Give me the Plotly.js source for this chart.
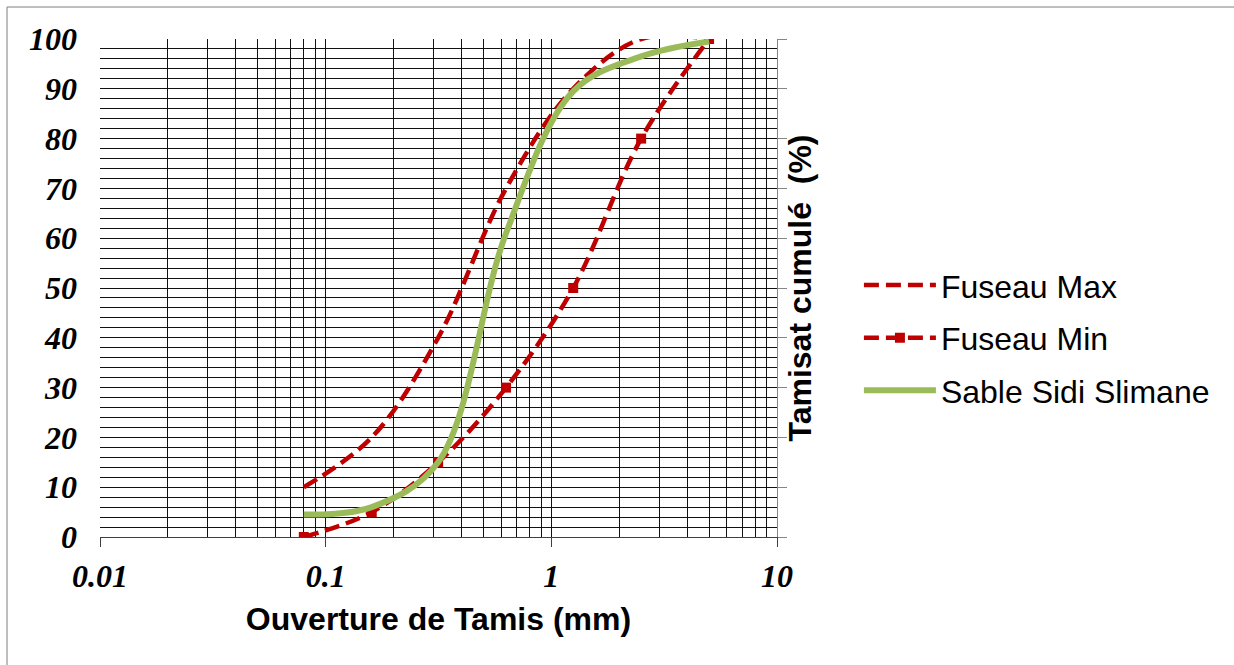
<!DOCTYPE html>
<html>
<head>
<meta charset="utf-8">
<script src="https://cdn.plot.ly/plotly-3.0.1.min.js"></script>
<style>
  html, body { margin: 0; padding: 0; background: #ffffff; }
  #chart { width: 1234px; height: 665px; }
</style>
</head>
<body>
<div id="chart"></div>
<script>
// Sieve openings (mm) and cumulative passing (%)
const sieves = [0.08, 0.16, 0.315, 0.63, 1.25, 2.5, 5];
const fuseauMax = [10, 20, 40, 70, 90, 100, 100];
const fuseauMin = [0, 5, 15, 30, 50, 80, 100];
const sableSidiSlimane = [4.5, 6, 15, 61, 89.5, 96.5, 99.5];

const seriesNames = ['Fuseau Max', 'Fuseau Min', 'Sable Sidi Slimane'];

// Axis ticks
const xTickVals = [0.01, 0.1, 1, 10];
const xTickText = ['0.01', '0.1', '1', '10'];
const yTickVals = [0, 10, 20, 30, 40, 50, 60, 70, 80, 90, 100];

// Log-paper grid: every digit of each decade, and every 2 % vertically
const xGridVals = [];
[0.01, 0.1, 1].forEach(function (dec) {
  for (let k = 2; k <= 10; k++) xGridVals.push(+(k * dec).toPrecision(3));
});
xGridVals.pop(); // 10 is the right-hand axis line
const yGridVals = [];
for (let v = 2; v < 100; v += 2) yGridVals.push(v);

const red = '#C00000';
const green = '#9BBB59';
const gridColor = '#111111';

const tickFont = { family: '"Liberation Serif", "Times New Roman", serif', size: 32, weight: 'bold', style: 'italic', color: '#000' };
const titleFont = { family: '"Liberation Sans", Arial, sans-serif', size: 32, weight: 'bold', color: '#000' };

const traces = [
  {
    x: sieves, y: fuseauMax, name: seriesNames[0], type: 'scatter', mode: 'lines',
    legendgroup: 'a',
    line: { color: red, width: 4.5, dash: '15px,7px', shape: 'spline', smoothing: 1 },
    hoverinfo: 'x+y+name'
  },
  {
    x: sieves, y: fuseauMin, name: seriesNames[1], type: 'scatter', mode: 'lines+markers',
    legendgroup: 'b',
    line: { color: red, width: 4.5, dash: '15px,7px', shape: 'spline', smoothing: 1 },
    marker: { symbol: 'square', size: 10, color: red },
    hoverinfo: 'x+y+name'
  },
  {
    x: sieves, y: sableSidiSlimane, name: seriesNames[2], type: 'scatter', mode: 'lines',
    legendgroup: 'c',
    line: { color: green, width: 6, shape: 'spline', smoothing: 1 },
    hoverinfo: 'x+y+name'
  },
  // carriers for the overlay axes (grid and right-hand scale)
  { x: [1], y: [0], xaxis: 'x2', yaxis: 'y3', mode: 'lines', showlegend: false, hoverinfo: 'skip' },
  { x: [1], y: [0], xaxis: 'x', yaxis: 'y2', mode: 'lines', showlegend: false, hoverinfo: 'skip' }
];

const layout = {
  width: 1234,
  height: 665,
  margin: { l: 100, r: 457, t: 39, b: 128, autoexpand: false },
  paper_bgcolor: '#ffffff',
  plot_bgcolor: '#ffffff',
  showlegend: true,
  legend: {
    x: 1.121, xanchor: 'left',
    y: 0.4, yanchor: 'middle',
    font: { family: '"Liberation Sans", Arial, sans-serif', size: 32, color: '#000' },
    bgcolor: 'rgba(0,0,0,0)',
    itemwidth: 72,
    tracegroupgap: 8
  },
  xaxis: {
    type: 'log', range: [-2, 1],
    tickmode: 'array', tickvals: xTickVals, ticktext: xTickText,
    ticks: 'outside', ticklen: 9, tickcolor: '#404040', tickwidth: 1,
    showline: true, linecolor: '#404040', linewidth: 1,
    showgrid: false, zeroline: false,
    tickfont: tickFont, ticklabelstandoff: 2,
    title: { text: 'Ouverture de Tamis (mm)', font: titleFont, standoff: 14 },
    automargin: false, fixedrange: true
  },
  xaxis2: {
    type: 'log', range: [-2, 1], overlaying: 'x', anchor: 'y',
    tickmode: 'array', tickvals: xGridVals,
    showticklabels: false, ticks: '',
    showgrid: true, gridcolor: gridColor, gridwidth: 1,
    showline: false, zeroline: false, fixedrange: true
  },
  yaxis: {
    range: [0, 100],
    tickmode: 'array', tickvals: yTickVals,
    ticks: '', showline: false, showgrid: false, zeroline: false,
    tickfont: tickFont, ticklabelstandoff: 22,
    automargin: false, fixedrange: true
  },
  yaxis2: {
    range: [0, 100], overlaying: 'y', side: 'right', anchor: 'x',
    tickmode: 'array', tickvals: yTickVals, showticklabels: false,
    ticks: 'outside', ticklen: 9, tickcolor: '#868686', tickwidth: 1,
    showline: true, linecolor: '#868686', linewidth: 1,
    showgrid: false, zeroline: false,
    title: { text: 'Tamisat cumulé \u00a0(%)', font: titleFont, standoff: 2 },
    automargin: false, fixedrange: true
  },
  yaxis3: {
    range: [0, 100], overlaying: 'y', anchor: 'x',
    tickmode: 'array', tickvals: yGridVals, showticklabels: false, ticks: '',
    showgrid: true, gridcolor: gridColor, gridwidth: 1,
    showline: false, zeroline: false, fixedrange: true
  },
  shapes: [
    {
      type: 'rect', xref: 'paper', yref: 'paper',
      x0: -93 / 677, x1: 1300 / 677, y0: -200 / 498, y1: 530 / 498,
      line: { color: '#7f7f7f', width: 1 }, fillcolor: 'rgba(0,0,0,0)', layer: 'below'
    }
  ]
};

Plotly.newPlot('chart', traces, layout, { staticPlot: true, displayModeBar: false });
</script>
</body>
</html>
